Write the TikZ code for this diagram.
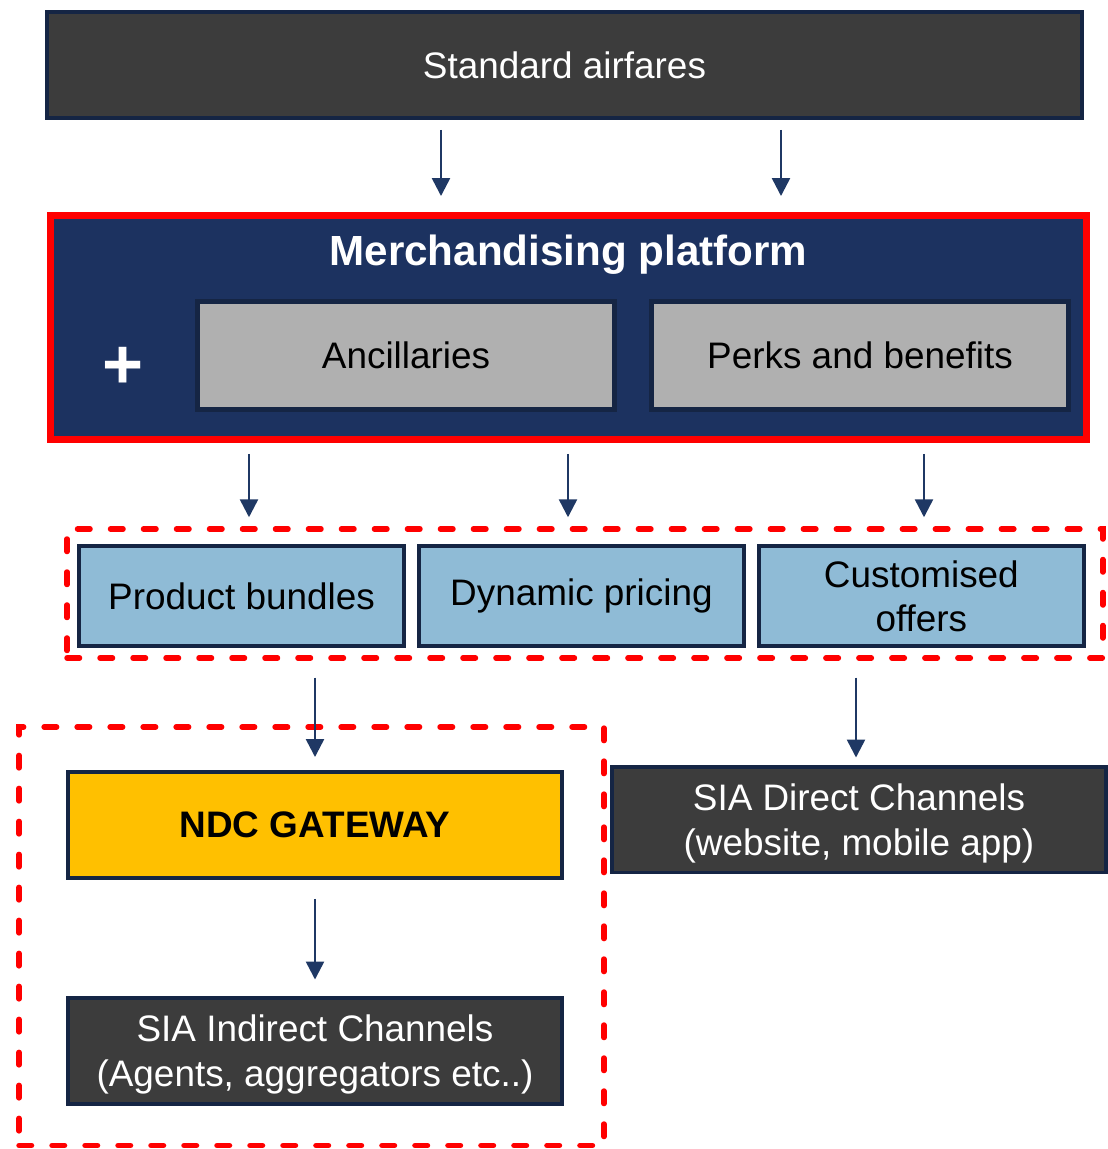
\documentclass[tikz,border=0pt]{standalone}
\usepackage{fontspec}
\setmainfont{Liberation Sans}
\usetikzlibrary{positioning,arrows.meta,fit,calc}
\definecolor{edge}{HTML}{152544}
\definecolor{navy}{HTML}{1C3260}
\definecolor{arr}{HTML}{1F3864}
\definecolor{dgray}{HTML}{3C3C3C}
\definecolor{lgray}{HTML}{B0B0B0}
\definecolor{lblue}{HTML}{8FBBD6}
\definecolor{gold}{HTML}{FFC000}
\definecolor{hot}{HTML}{FF0000}
\tikzset{
  >={Triangle[length=0.36cm, width=0.36cm]},
  box/.style={draw=edge, line width=0.08cm, align=center, inner sep=0pt,
              font=\fontsize{21}{25.2}\selectfont},
  dbox/.style={box, fill=dgray, text=white},
  gbox/.style={box, fill=lgray, line width=0.1cm, minimum width=8.34cm, minimum height=2.16cm},
  bbox/.style={box, fill=lblue, minimum width=6.5cm, minimum height=2.0cm},
  chan/.style={dbox, minimum width=9.88cm, minimum height=2.12cm, text depth=0pt},
  grp/.style={draw=hot, line width=0.11cm, line cap=round, dash pattern=on 0.25cm off 0.41cm,
              inner sep=0pt},
  l/.style={->, draw=arr, line width=0.05cm},
}
\begin{document}
\begin{tikzpicture}[x=0.02cm, y=-0.02cm, node distance=0.22cm]
  \useasboundingbox (0,0) rectangle (1107,1149);
  % top row
  \node[dbox, minimum width=20.7cm, minimum height=2.12cm] (fares) at (564.5,65) {Standard airfares};
  % platform
  \node[draw=hot, fill=navy, line width=0.14cm, minimum width=20.72cm, minimum height=4.48cm]
       (merch) at (568.5,327.5) {};
  \node[text=white, font=\bfseries\fontsize{24}{28}\selectfont] (mtitle) at (568.5,255) {Merchandising platform};
  \node[text=white, font=\bfseries\fontsize{40}{44}\selectfont, inner sep=0pt] (plus) at (123,368) {+};
  \node[gbox] (anc) at (406,355.5) {Ancillaries};
  \node[gbox] (perks) at (860,355.5) {Perks and benefits};
  % offers
  \node[bbox] (prod) at (241.5,596) {Product bundles};
  \node[bbox, right=of prod] (dyn) {Dynamic pricing};
  \node[bbox, right=of dyn] (cust) {Customised\\offers};
  \coordinate (o1) at ([shift={(-10,-15)}]prod.north west);
  \coordinate (o2) at ([shift={(17,10)}]cust.south east);
  \node[grp, fit=(o1)(o2)] (offers) {};
  % channels
  \node[box, fill=gold, font=\bfseries\fontsize{21}{25}\selectfont, minimum width=9.88cm,
        minimum height=2.12cm] (ndc) at (315,825) {NDC GATEWAY};
  \node[chan] (indir) at (315,1050.5) {SIA Indirect Channels\\(Agents, aggregators etc..)};
  \node[chan] (dir) at (859,819.5) {SIA Direct Channels\\(website, mobile app)};
  \coordinate (g1) at ([shift={(-47,-43)}]ndc.north west);
  \coordinate (g2) at ([shift={(40,40)}]indir.south east);
  \node[grp, fit=(g1)(g2)] (gate) {};
  % arrows
  \draw[l, shorten <=0.2cm, shorten >=0.32cm] (fares.south -| 441,0) -- (merch.north -| 441,0);
  \draw[l, shorten <=0.2cm, shorten >=0.32cm] (fares.south -| 781,0) -- (merch.north -| 781,0);
  \foreach \xx in {249,568,924}
    \draw[l, shorten <=0.22cm, shorten >=0.18cm] (merch.south -| \xx,0) -- (offers.north -| \xx,0);
  \draw[l, shorten <=0.34cm, shorten >=0.26cm] (offers.south -| ndc) -- (ndc);
  \draw[l, shorten <=0.34cm, shorten >=0.14cm] (offers.south -| 856,0) -- (dir.north -| 856,0);
  \draw[l, shorten <=0.38cm, shorten >=0.32cm] (ndc) -- (indir);
\end{tikzpicture}
\end{document}
